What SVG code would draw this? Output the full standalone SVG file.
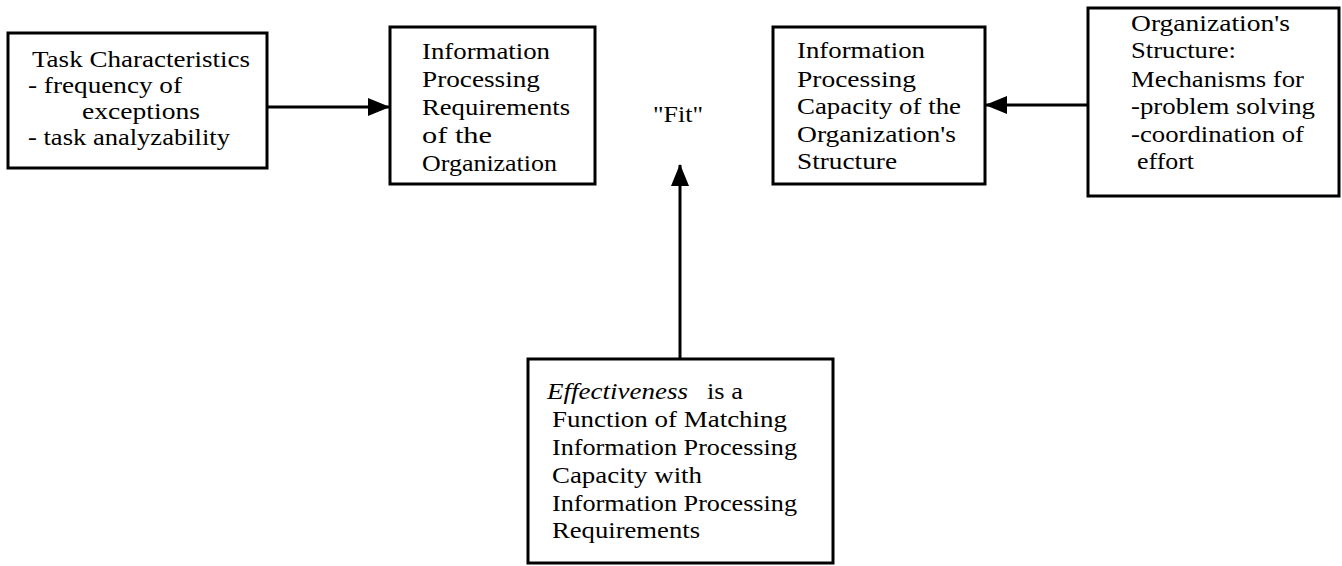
<svg xmlns="http://www.w3.org/2000/svg" width="1342" height="566" viewBox="0 0 1342 566">
<style>
.box{fill:#fff;stroke:#000;stroke-width:3}
.t{font-family:"Liberation Serif","Times New Roman",serif;font-size:23px;fill:#000}
.c{stroke:#000;stroke-width:3;fill:none}
</style>
<defs>
<marker id="ah" markerWidth="22" markerHeight="18" refX="21" refY="9" orient="auto" markerUnits="userSpaceOnUse">
<path d="M0,0 L22,9 L0,18 Z" fill="#000"/>
</marker>
</defs>
<rect width="1342" height="566" fill="#fff"/>
<g id="connectors">
<line class="c" x1="268" y1="107" x2="389" y2="107" marker-end="url(#ah)"/>
<line class="c" x1="1088" y1="105" x2="986" y2="105" marker-end="url(#ah)"/>
<line class="c" x1="680" y1="359" x2="680" y2="165" marker-end="url(#ah)"/>
</g>
<g id="task">
<rect class="box" x="8" y="33" width="259" height="135"/>
<text class="t" x="32" y="67" textLength="218" lengthAdjust="spacingAndGlyphs">Task Characteristics</text>
<text class="t" x="28" y="93" textLength="154" lengthAdjust="spacingAndGlyphs">- frequency of</text>
<text class="t" x="82" y="119" textLength="118" lengthAdjust="spacingAndGlyphs">exceptions</text>
<text class="t" x="28" y="145" textLength="202" lengthAdjust="spacingAndGlyphs">- task analyzability</text>
</g>
<g id="requirements">
<rect class="box" x="390" y="27" width="205" height="157"/>
<text class="t" x="422" y="59" textLength="128" lengthAdjust="spacingAndGlyphs">Information</text>
<text class="t" x="422" y="87" textLength="118" lengthAdjust="spacingAndGlyphs">Processing</text>
<text class="t" x="422" y="115" textLength="148" lengthAdjust="spacingAndGlyphs">Requirements</text>
<text class="t" x="422" y="143" textLength="70" lengthAdjust="spacingAndGlyphs">of  the</text>
<text class="t" x="422" y="171" textLength="135" lengthAdjust="spacingAndGlyphs">Organization</text>
</g>
<g id="fit">
<text class="t" x="653" y="122" textLength="50" lengthAdjust="spacingAndGlyphs">"Fit"</text>
</g>
<g id="capacity">
<rect class="box" x="773" y="27" width="212" height="157"/>
<text class="t" x="797" y="58" textLength="128" lengthAdjust="spacingAndGlyphs">Information</text>
<text class="t" x="797" y="87" textLength="119" lengthAdjust="spacingAndGlyphs">Processing</text>
<text class="t" x="797" y="114" textLength="164" lengthAdjust="spacingAndGlyphs">Capacity of the</text>
<text class="t" x="797" y="142" textLength="159" lengthAdjust="spacingAndGlyphs">Organization's</text>
<text class="t" x="797" y="169" textLength="100" lengthAdjust="spacingAndGlyphs">Structure</text>
</g>
<g id="structure">
<rect class="box" x="1088" y="8" width="251" height="188"/>
<text class="t" x="1131" y="31" textLength="159" lengthAdjust="spacingAndGlyphs">Organization's</text>
<text class="t" x="1131" y="58" textLength="105" lengthAdjust="spacingAndGlyphs">Structure:</text>
<text class="t" x="1131" y="87" textLength="173" lengthAdjust="spacingAndGlyphs">Mechanisms for</text>
<text class="t" x="1131" y="114" textLength="184" lengthAdjust="spacingAndGlyphs">-problem solving</text>
<text class="t" x="1131" y="142" textLength="173" lengthAdjust="spacingAndGlyphs">-coordination of</text>
<text class="t" x="1137" y="169" textLength="57" lengthAdjust="spacingAndGlyphs">effort</text>
</g>
<g id="effectiveness">
<rect class="box" x="528" y="359" width="305" height="204"/>
<text class="t" x="547" y="399"><tspan font-style="italic" textLength="141" lengthAdjust="spacingAndGlyphs">Effectiveness</tspan><tspan x="707" textLength="36" lengthAdjust="spacingAndGlyphs">is a</tspan></text>
<text class="t" x="552" y="427" textLength="235" lengthAdjust="spacingAndGlyphs">Function of Matching</text>
<text class="t" x="552" y="455" textLength="245" lengthAdjust="spacingAndGlyphs">Information Processing</text>
<text class="t" x="552" y="483" textLength="150" lengthAdjust="spacingAndGlyphs">Capacity with</text>
<text class="t" x="552" y="511" textLength="245" lengthAdjust="spacingAndGlyphs">Information Processing</text>
<text class="t" x="552" y="538" textLength="148" lengthAdjust="spacingAndGlyphs">Requirements</text>
</g>
</svg>
